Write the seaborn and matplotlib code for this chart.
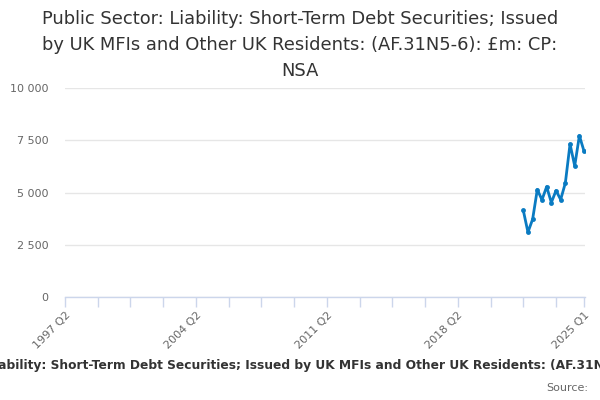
import matplotlib
matplotlib.use("Agg")
import matplotlib.pyplot as plt
import seaborn as sns
import pandas as pd
import numpy as np
from matplotlib.ticker import FuncFormatter

# ---- data ----
quarters = ["2021 Q4", "2022 Q1", "2022 Q2", "2022 Q3", "2022 Q4", "2023 Q1", "2023 Q2",
            "2023 Q3", "2023 Q4", "2024 Q1", "2024 Q2", "2024 Q3", "2024 Q4", "2025 Q1"]
values = [4150, 3100, 3720, 5140, 4650, 5280, 4520, 5090, 4660, 5460, 7320, 6270, 7720, 6970]
tick_labels = ["1997 Q2", "2004 Q2", "2011 Q2", "2018 Q2", "2025 Q1"]
y_ticks = [0, 2500, 5000, 7500, 10000]
start_q = "1997 Q2"
end_q = "2025 Q1"
title = "Public Sector: Liability: Short-Term Debt Securities; Issued by UK MFIs and Other UK Residents: (AF.31N5-6): £m: CP: NSA"


def q_index(label):
    y, q = label.split(" Q")
    sy, sq = start_q.split(" Q")
    return (int(y) - int(sy)) * 4 + (int(q) - int(sq))


df = pd.DataFrame({"quarter": quarters, "value": values})
df["x"] = df["quarter"].map(q_index)

sns.set_theme(style="white")
plt.rcParams['font.family'] = ['DejaVu Sans']

fig = plt.figure(figsize=(6, 4), dpi=100)
ax = fig.add_axes([65 / 600, 1 - 297 / 400, 520 / 600, (297 - 88) / 400])

line_color = "#0a7bc2"
sns.lineplot(data=df, x="x", y="value", ax=ax, color=line_color, linewidth=2,
             marker="o", markersize=3.5, markeredgewidth=0, markerfacecolor=line_color)

end_i = q_index(end_q)
ax.set_xlim(0, end_i + 0.2)
ax.set_ylim(0, 10000)

ax.set_yticks(y_ticks)
ax.yaxis.set_major_formatter(FuncFormatter(lambda v, p: f"{int(v):,}".replace(",", " ")))
ax.grid(axis="y", color="#e6e6e6", linewidth=1)
ax.set_axisbelow(True)

major = [q_index(t) for t in tick_labels]
minor = [i for i in range(0, end_i, 7) if i not in major]
ax.set_xticks(major)
ax.set_xticklabels(tick_labels, rotation=45, ha="right", rotation_mode="anchor")
ax.set_xticks(minor, minor=True)

for s in ["top", "right", "left"]:
    ax.spines[s].set_visible(False)
ax.spines["bottom"].set_color("#ccd6eb")
ax.spines["bottom"].set_linewidth(1)

ax.tick_params(axis="x", which="both", direction="out", length=7.5, width=1,
               color="#ccd6eb", labelcolor="#666666", labelsize=8, pad=2, bottom=True)
ax.tick_params(axis="y", length=0, labelcolor="#666666", labelsize=8, pad=12)
ax.set_xlabel("")
ax.set_ylabel("")

fig.text(0.5, 1 - 45 / 400, "Public Sector: Liability: Short-Term Debt Securities; Issued\nby UK MFIs and Other UK Residents: (AF.31N5-6): £m: CP:\nNSA",
         ha="center", va="center", fontsize=12.9, color="#333333", linespacing=1.55)

fig.text(306 / 600, 1 - 366 / 400, title, ha="center", va="center", fontsize=8.8,
         fontweight="bold", color="#333333")
fig.text(588 / 600, 1 - 388 / 400, "Source:", ha="right", va="center", fontsize=8,
         color="#666666")

fig.savefig("out.png", dpi=100)
